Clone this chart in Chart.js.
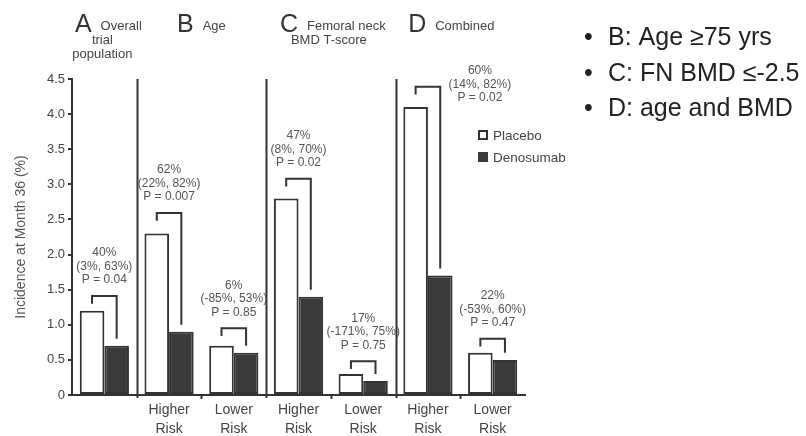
<!DOCTYPE html>
<html>
<head>
<meta charset="utf-8">
<script src="https://cdn.jsdelivr.net/npm/chart.js@4.4.1/dist/chart.umd.min.js"></script>
<style>
  html, body { margin: 0; padding: 0; background: #fff; }
  #wrap { position: relative; width: 806px; height: 436px; }
</style>
</head>
<body>
<div id="wrap"><canvas id="chart" width="806" height="436"></canvas></div>
<script>
// data
const categories = ['', ['Higher', 'Risk'], ['Lower', 'Risk'], ['Higher', 'Risk'], ['Lower', 'Risk'], ['Higher', 'Risk'], ['Lower', 'Risk']];
const placebo = [1.2, 2.3, 0.7, 2.8, 0.3, 4.1, 0.6];
const denosumab = [0.7, 0.9, 0.6, 1.4, 0.2, 1.7, 0.5];
const bracketTops = [1.41, 2.59, 0.95, 3.08, 0.48, 4.39, 0.80];
const reductions = ['40%', '62%', '6%', '47%', '17%', '60%', '22%'];
const intervals = ['(3%, 63%)', '(22%, 82%)', '(-85%, 53%)', '(8%, 70%)', '(-171%, 75%)', '(14%, 82%)', '(-53%, 60%)'];
const pValues = ['P = 0.04', 'P = 0.007', 'P = 0.85', 'P = 0.02', 'P = 0.75', 'P = 0.02', 'P = 0.47'];
const yTicks = [0, 0.5, 1.0, 1.5, 2.0, 2.5, 3.0, 3.5, 4.0, 4.5];
const panelLetters = ['A', 'B', 'C', 'D'];
const panelTitles = [['Overall', 'trial', 'population'], ['Age'], ['Femoral neck', 'BMD T-score'], ['Combined']];
const panelRanges = [[0, 0], [1, 2], [3, 4], [5, 6]];
const notes = ['B: Age \u226575 yrs', 'C: FN BMD \u2264-2.5', 'D: age and BMD'];

const FONT = "'Liberation Sans', Arial, Helvetica, sans-serif";
const DARK = '#333';
Chart.defaults.font.family = FONT;

// brackets, p-value labels, panel headings, legend and side notes
const extras = {
  id: 'extras',
  afterDraw(chart, args, opts) {
    const ctx = chart.ctx;
    const xs = chart.scales.x, ys = chart.scales.y;
    const area = chart.chartArea;
    const half = (xs.getPixelForValue(1) - xs.getPixelForValue(0)) / 2;
    const mP = chart.getDatasetMeta(0), mD = chart.getDatasetMeta(1);
    ctx.save();
    ctx.strokeStyle = DARK;
    ctx.lineWidth = 2;

    // panel separators
    [1, 3, 5].forEach(k => {
      const x = Math.round(xs.getPixelForValue(k) - half) + 0.5;
      ctx.beginPath();
      ctx.moveTo(x, ys.getPixelForValue(4.5));
      ctx.lineTo(x, area.bottom + 3);
      ctx.stroke();
    });
    // small ticks between higher/lower
    [2, 4, 6].forEach(k => {
      const x = Math.round(xs.getPixelForValue(k) - half) + 0.5;
      ctx.beginPath();
      ctx.moveTo(x, area.bottom);
      ctx.lineTo(x, area.bottom + 4);
      ctx.stroke();
    });

    // brackets + labels
    ctx.textAlign = 'center';
    ctx.textBaseline = 'middle';
    placebo.forEach((v, i) => {
      const x1 = mP.data[i].x, x2 = mD.data[i].x;
      const yt = ys.getPixelForValue(bracketTops[i]);
      ctx.beginPath();
      ctx.moveTo(x1, ys.getPixelForValue(bracketTops[i] - 0.11));
      ctx.lineTo(x1, yt);
      ctx.lineTo(x2, yt);
      ctx.lineTo(x2, ys.getPixelForValue(denosumab[i] + 0.1));
      ctx.stroke();

      const off = opts.labelOffsets[i] || [0, 0];
      const cx = xs.getPixelForValue(i) + off[0];
      const base = yt - 16 + off[1];
      ctx.fillStyle = '#555';
      ctx.font = '12px ' + FONT;
      ctx.fillText(reductions[i], cx, base - 27);
      ctx.fillText(intervals[i], cx, base - 13.5);
      ctx.fillText(pValues[i], cx, base);
    });

    // panel headings
    ctx.textBaseline = 'alphabetic';
    panelRanges.forEach(([a, b], p) => {
      const l = xs.getPixelForValue(a) - half, r = xs.getPixelForValue(b) + half;
      const c = (l + r) / 2;
      const cx = c + opts.headingShift[p];
      ctx.font = '25px ' + FONT;
      const lw = ctx.measureText(panelLetters[p]).width;
      ctx.font = '13px ' + FONT;
      const tw = ctx.measureText(panelTitles[p][0]).width;
      const start = cx - (lw + 9 + tw) / 2;
      ctx.textAlign = 'left';
      ctx.fillStyle = DARK;
      ctx.font = '25px ' + FONT;
      ctx.fillText(panelLetters[p], start, 32);
      ctx.fillStyle = '#444';
      ctx.font = '13px ' + FONT;
      ctx.fillText(panelTitles[p][0], start + lw + 9, 30);
      ctx.textAlign = 'center';
      panelTitles[p].slice(1).forEach((t, k) => {
        ctx.fillText(t, c - 2, 44 + 14 * k);
      });
    });

    // legend
    ctx.textAlign = 'left';
    ctx.font = '13.5px ' + FONT;
    ctx.fillStyle = '#fff';
    ctx.fillRect(479, 131, 8, 8);
    ctx.strokeRect(479, 131, 8, 8);
    ctx.fillStyle = '#3a3a3a';
    ctx.fillRect(478, 152, 10, 10);
    ctx.fillStyle = '#444';
    ctx.fillText('Placebo', 493, 140);
    ctx.fillText('Denosumab', 493, 162);

    // side notes
    ctx.fillStyle = '#222';
    ctx.font = '25px ' + FONT;
    notes.forEach((t, k) => {
      const y = 45 + 35.5 * k;
      ctx.fillText('\u2022', 584, y);
      ctx.fillText(t, 608, y);
    });
    ctx.restore();
  }
};

new Chart(document.getElementById('chart'), {
  type: 'bar',
  data: {
    labels: categories,
    datasets: [
      { label: 'Placebo', data: placebo, backgroundColor: '#fff', borderColor: DARK, borderWidth: 2, borderSkipped: false,
        categoryPercentage: 0.76, barPercentage: 1.0 },
      { label: 'Denosumab', data: denosumab, backgroundColor: '#3a3a3a', borderColor: DARK, borderWidth: 2, borderSkipped: false,
        categoryPercentage: 0.76, barPercentage: 1.0 }
    ]
  },
  options: {
    responsive: false,
    animation: false,
    layout: { padding: { top: 79, right: 281, left: 0, bottom: 0 } },
    plugins: {
      legend: { display: false },
      tooltip: { enabled: false },
      extras: {
        labelOffsets: { 5: [52, 27] },
        headingShift: [4, 0, 2, -9]
      }
    },
    scales: {
      x: {
        grid: { display: false, drawTicks: false },
        border: { color: DARK, width: 2 },
        ticks: { color: '#444', font: { size: 14, lineHeight: 1.38 }, padding: 5, maxRotation: 0, autoSkip: false },
        afterFit(s) { s.height = 41; }
      },
      y: {
        min: 0,
        max: 4.5,
        afterBuildTicks(s) { s.ticks = yTicks.map(v => ({ value: v })); },
        grid: { drawOnChartArea: false, tickLength: 4, color: DARK, lineWidth: 2 },
        border: { color: DARK, width: 2 },
        ticks: {
          color: '#444', font: { size: 13 }, padding: 3,
          callback: v => v === 0 ? '0' : v.toFixed(1)
        },
        title: { display: true, text: 'Incidence at Month 36 (%)', color: '#555', font: { size: 14 }, padding: { top: 13, bottom: 0 } },
        afterFit(s) { s.width = 72; }
      }
    }
  },
  plugins: [extras]
});
</script>
</body>
</html>
